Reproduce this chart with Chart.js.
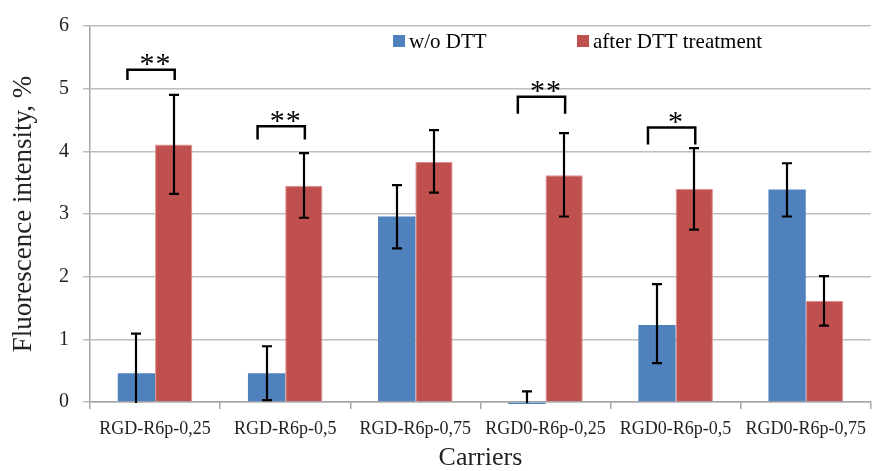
<!DOCTYPE html>
<html lang="en">
<head>
<meta charset="UTF-8">
<title>Fluorescence intensity</title>
<script src="https://cdn.jsdelivr.net/npm/chart.js"></script>
<style>
  html, body { margin: 0; padding: 0; background: #fff; }
</style>
</head>
<body>
<canvas id="myChart" width="875" height="471"></canvas>
<script>
// data
const categories = ['RGD-R6p-0,25', 'RGD-R6p-0,5', 'RGD-R6p-0,75', 'RGD0-R6p-0,25', 'RGD0-R6p-0,5', 'RGD0-R6p-0,75'];
const woDtt     = [0.46, 0.46, 2.96, -0.03, 1.23, 3.39];
const woDttLow  = [-0.19, 0.03, 2.45, -0.23, 0.62, 2.96];
const woDttHigh = [1.09, 0.89, 3.46, 0.17, 1.88, 3.81];
const afterDtt     = [4.11, 3.45, 3.83, 3.62, 3.40, 1.61];
const afterDttLow  = [3.32, 2.94, 3.34, 2.96, 2.75, 1.22];
const afterDttHigh = [4.90, 3.97, 4.34, 4.29, 4.05, 2.01];
const yTicks = [0, 1, 2, 3, 4, 5, 6];

// significance brackets
const sigCategory = [0, 1, 3, 4];
const sigTop      = [5.30, 4.40, 4.87, 4.38];
const sigBottom   = [5.14, 4.19, 4.60, 4.11];
const sigLabel    = ['**', '**', '**', '*'];

const serif = '"Liberation Serif", "Times New Roman", serif';

// error bars, clipped to the plot
const errorBars = {
  id: 'errorBars',
  afterDatasetsDraw(chart) {
    const ctx = chart.ctx, y = chart.scales.y, area = chart.chartArea;
    const lows = [woDttLow, afterDttLow], highs = [woDttHigh, afterDttHigh];
    ctx.save();
    ctx.beginPath();
    ctx.rect(area.left, area.top, area.right - area.left, area.bottom - area.top + 1);
    ctx.clip();
    ctx.strokeStyle = '#000';
    ctx.lineWidth = 2.2;
    chart.data.datasets.forEach((ds, d) => {
      chart.getDatasetMeta(d).data.forEach((bar, i) => {
        const x = Math.round(bar.x);
        const y1 = y.getPixelForValue(lows[d][i]);
        const y2 = y.getPixelForValue(highs[d][i]);
        ctx.beginPath();
        ctx.moveTo(x, y1); ctx.lineTo(x, y2);
        ctx.moveTo(x - 5, y1); ctx.lineTo(x + 5, y1);
        ctx.moveTo(x - 5, y2); ctx.lineTo(x + 5, y2);
        ctx.stroke();
      });
    });
    ctx.restore();
  }
};

// brackets with stars + legend inside the plot
const extras = {
  id: 'extras',
  afterDraw(chart) {
    const ctx = chart.ctx, y = chart.scales.y, x = chart.scales.x;
    const blue = chart.getDatasetMeta(0).data, red = chart.getDatasetMeta(1).data;
    ctx.save();
    ctx.strokeStyle = '#000';
    ctx.lineWidth = 2.5;
    ctx.fillStyle = '#000';
    ctx.font = '30px ' + serif;
    sigCategory.forEach((c, k) => {
      const xl = blue[c].x - 9, xr = red[c].x + 1;
      const yt = y.getPixelForValue(sigTop[k]), yb = y.getPixelForValue(sigBottom[k]);
      ctx.beginPath();
      ctx.moveTo(xl, yb); ctx.lineTo(xl, yt); ctx.lineTo(xr, yt); ctx.lineTo(xr, yb);
      ctx.stroke();
      const cx = x.getPixelForValue(c), cy = yt - 10;
      const n = sigLabel[k].length;
      const m = ctx.measureText('*');
      const off = (m.actualBoundingBoxAscent - m.actualBoundingBoxDescent) / 2;
      ctx.textAlign = 'center';
      ctx.textBaseline = 'alphabetic';
      for (let s = 0; s < n; s++) {
        ctx.fillText('*', cx + (s - (n - 1) / 2) * 16, cy + off);
      }
    });

    // legend
    const items = chart.data.datasets;
    const lx = [393, 577];
    ctx.font = '21px ' + serif;
    ctx.textAlign = 'left';
    ctx.textBaseline = 'middle';
    items.forEach((ds, d) => {
      ctx.fillStyle = ds.backgroundColor;
      ctx.fillRect(lx[d], 35, 12, 12);
      ctx.fillStyle = '#000';
      ctx.fillText(ds.label, lx[d] + 16, 42);
    });
    ctx.restore();
  }
};

new Chart(document.getElementById('myChart'), {
  type: 'bar',
  data: {
    labels: categories,
    datasets: [
      { label: 'w/o DTT', data: woDtt, backgroundColor: '#4F81BD', clip: false,
        categoryPercentage: 0.573, barPercentage: 1 },
      { label: 'after DTT treatment', data: afterDtt, backgroundColor: '#C0504D',
        borderColor: '#dc8f8d', borderWidth: 1, categoryPercentage: 0.573, barPercentage: 1 }
    ]
  },
  options: {
    responsive: false,
    animation: false,
    devicePixelRatio: 1,
    layout: { padding: { top: 23, right: 0, left: 0, bottom: 0 } },
    plugins: { legend: { display: false }, tooltip: { enabled: false } },
    scales: {
      x: {
        offset: true,
        grid: { offset: true, drawOnChartArea: false, drawTicks: true, tickLength: 7, color: '#a6a6a6', lineWidth: 1.5 },
        border: { color: '#a6a6a6', width: 1.5 },
        ticks: { color: '#222', font: { family: serif, size: 18 }, padding: 9, maxRotation: 0, autoSkip: false },
        title: { display: true, text: 'Carriers', color: '#222', font: { family: serif, size: 26, lineHeight: 1 }, padding: { top: 3, bottom: 0 } },
        afterFit(s) { s.height = 69; }
      },
      y: {
        min: 0, max: 6,
        afterBuildTicks(s) { s.ticks = yTicks.map(v => ({ value: v })); },
        grid: { color: '#bdbdbd', lineWidth: 1.5, tickLength: 7 },
        border: { color: '#a6a6a6', width: 1.5 },
        ticks: { color: '#222', font: { family: serif, size: 20 }, padding: 14 },
        title: { display: true, text: 'Fluorescence intensity, %', color: '#222', font: { family: serif, size: 27 }, padding: { top: 8, bottom: 0 } },
        afterFit(s) { s.width = 90; }
      }
    }
  },
  plugins: [errorBars, extras]
});
</script>
</body>
</html>
